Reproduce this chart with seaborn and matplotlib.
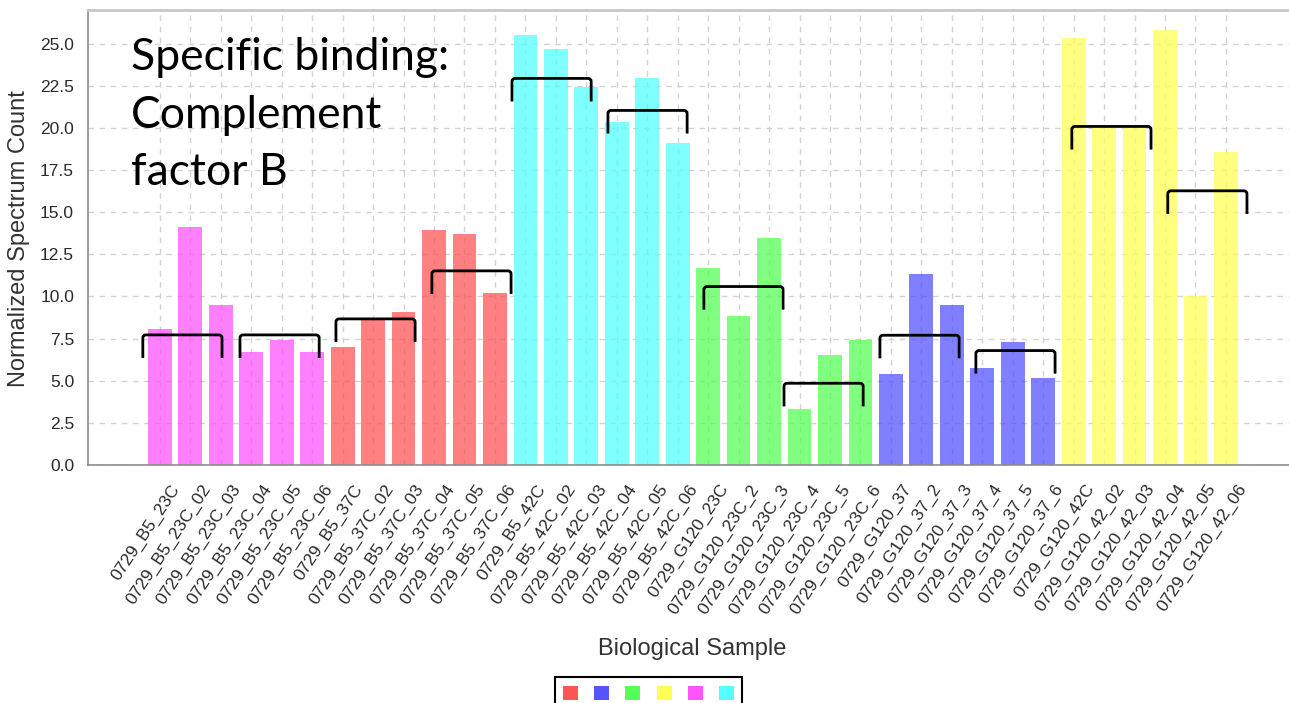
import numpy as np
import pandas as pd
import matplotlib
matplotlib.use("Agg")
import matplotlib.pyplot as plt
import seaborn as sns
from matplotlib.patches import Patch, PathPatch
from matplotlib.path import Path
from matplotlib.transforms import ScaledTranslation

# ---- data -------------------------------------------------------------
samples = [
    "0729_B5_23C", "0729_B5_23C_02", "0729_B5_23C_03", "0729_B5_23C_04", "0729_B5_23C_05", "0729_B5_23C_06",
    "0729_B5_37C", "0729_B5_37C_02", "0729_B5_37C_03", "0729_B5_37C_04", "0729_B5_37C_05", "0729_B5_37C_06",
    "0729_B5_42C", "0729_B5_42C_02", "0729_B5_42C_03", "0729_B5_42C_04", "0729_B5_42C_05", "0729_B5_42C_06",
    "0729_G120_23C", "0729_G120_23C_2", "0729_G120_23C_3", "0729_G120_23C_4", "0729_G120_23C_5", "0729_G120_23C_6",
    "0729_G120_37", "0729_G120_37_2", "0729_G120_37_3", "0729_G120_37_4", "0729_G120_37_5", "0729_G120_37_6",
    "0729_G120_42C", "0729_G120_42_02", "0729_G120_42_03", "0729_G120_42_04", "0729_G120_42_05", "0729_G120_42_06",
]
group_names = ["B5_23C", "B5_37C", "B5_42C", "G120_23C", "G120_37", "G120_42C"]
groups = [g for g in group_names for _ in range(6)]

values = [
    8.1, 14.1, 9.5, 6.7, 7.4, 6.7,
    7.0, 8.7, 9.05, 13.95, 13.7, 10.2,
    25.5, 24.7, 22.45, 20.35, 22.95, 19.1,
    11.7, 8.85, 13.45, 3.3, 6.5, 7.4,
    5.4, 11.35, 9.5, 5.75, 7.3, 5.15,
    25.35, 20.2, 20.1, 25.8, 10.05, 18.6,
]

group_colors = {
    "B5_23C": "#FF55FF",
    "B5_37C": "#FF5555",
    "B5_42C": "#55FFFF",
    "G120_23C": "#55FF55",
    "G120_37": "#5555FF",
    "G120_42C": "#FFFF55",
}
legend_colors = ["#FF5555", "#5555FF", "#55FF55", "#FFFF55", "#FF55FF", "#55FFFF"]

# replicate-group brackets: left end (category units) and height (value units)
bracket_x0 = [-0.56, 2.63, 5.78, 8.93, 11.56, 14.71, 17.86, 20.49, 23.64, 26.79, 29.94, 33.09]
bracket_level = [7.72, 7.72, 8.67, 11.52, 22.94, 21.04, 10.59, 4.85, 7.70, 6.79, 20.09, 16.27]
bracket_span = 2.6
bracket_drop = 1.37

title_lines = ["Specific binding:", "Complement", "factor B"]

# ---- figure -----------------------------------------------------------
sns.set_style("white")
plt.rcParams["font.family"] = ["Liberation Sans", "DejaVu Sans"]

W, H = 1289, 703
fig = plt.figure(figsize=(W / 100, H / 100), dpi=100)
ax = fig.add_axes([88 / W, 1 - 465 / H, (W - 88) / W, (465 - 10) / H])

df = pd.DataFrame({"sample": samples, "value": values, "group": groups})
sns.barplot(
    data=df, x="sample", y="value", hue="group", order=samples,
    palette=group_colors, saturation=1, dodge=False, width=0.78, alpha=0.75,
    linewidth=0, errorbar=None, legend=False, ax=ax,
)

ax.set_xlim(-2.36, 37.07)
ax.set_ylim(0, 27)
ax.set_yticks(np.arange(0, 25.01, 2.5))
ax.yaxis.set_major_formatter("{x:.1f}")

ax.set_axisbelow(True)
ax.grid(True, color="#d2d2d2", linestyle=(0, (4, 4)), linewidth=1)

for side in ("left", "bottom"):
    ax.spines[side].set_color("#8c8c8c")
    ax.spines[side].set_linewidth(1.2)
ax.spines["top"].set_color("#c8c8c8")
ax.spines["top"].set_linewidth(2)
ax.spines["right"].set_visible(False)

ax.tick_params(axis="y", length=4, width=1, color="#8c8c8c", pad=6,
               labelsize=12.5, labelcolor="#2a2a2a")
ax.tick_params(axis="x", length=0, pad=15)
ax.set_xticks(range(len(samples)))
ax.set_xticklabels(samples, rotation=56.5, ha="right", va="center",
                   rotation_mode="anchor", fontsize=12.5, color="#2a2a2a")
shift = ScaledTranslation(0.17, 0, fig.dpi_scale_trans)
for lab in ax.get_xticklabels():
    lab.set_transform(lab.get_transform() + shift)

ax.set_xlabel("Biological Sample", fontsize=17, color="#333333", va="center")
ax.xaxis.set_label_coords(0.503, -0.404)
ax.set_ylabel("Normalized Spectrum Count", fontsize=17, color="#333333", va="center")
ax.yaxis.set_label_coords(-0.0575, 0.497)

# brackets with slightly rounded corners
rx, ry = 0.1, 0.18
for x0, lvl in zip(bracket_x0, bracket_level):
    x1 = x0 + bracket_span
    verts = [
        (x0, lvl - bracket_drop), (x0, lvl - ry),
        (x0, lvl), (x0 + rx, lvl),
        (x1 - rx, lvl),
        (x1, lvl), (x1, lvl - ry),
        (x1, lvl - bracket_drop),
    ]
    codes = [Path.MOVETO, Path.LINETO, Path.CURVE3, Path.CURVE3, Path.LINETO,
             Path.CURVE3, Path.CURVE3, Path.LINETO]
    ax.add_patch(PathPatch(Path(verts, codes), fill=False, edgecolor="black",
                           linewidth=2, zorder=5))

# overlay title
for line, base in zip(title_lines, [70, 128, 185]):
    fig.text(131 / W, 1 - base / H, line, family=["Lato", "DejaVu Sans"],
             fontsize=32, ha="left", va="baseline", color="black")

# colour-key legend without labels
handles = [Patch(facecolor=c, edgecolor="none") for c in legend_colors]
leg = fig.legend(
    handles=handles, labels=[""] * len(handles), ncol=6,
    loc="upper center", bbox_to_anchor=(648.5 / W, 1 - 677 / H),
    fontsize=15, handlelength=0.72, handleheight=0.65, handletextpad=0,
    columnspacing=0.77, borderpad=0.4, borderaxespad=0, frameon=True,
    fancybox=False, edgecolor="black", framealpha=1,
)
leg.get_frame().set_linewidth(1.5)

fig.savefig("out.png", dpi=100)
